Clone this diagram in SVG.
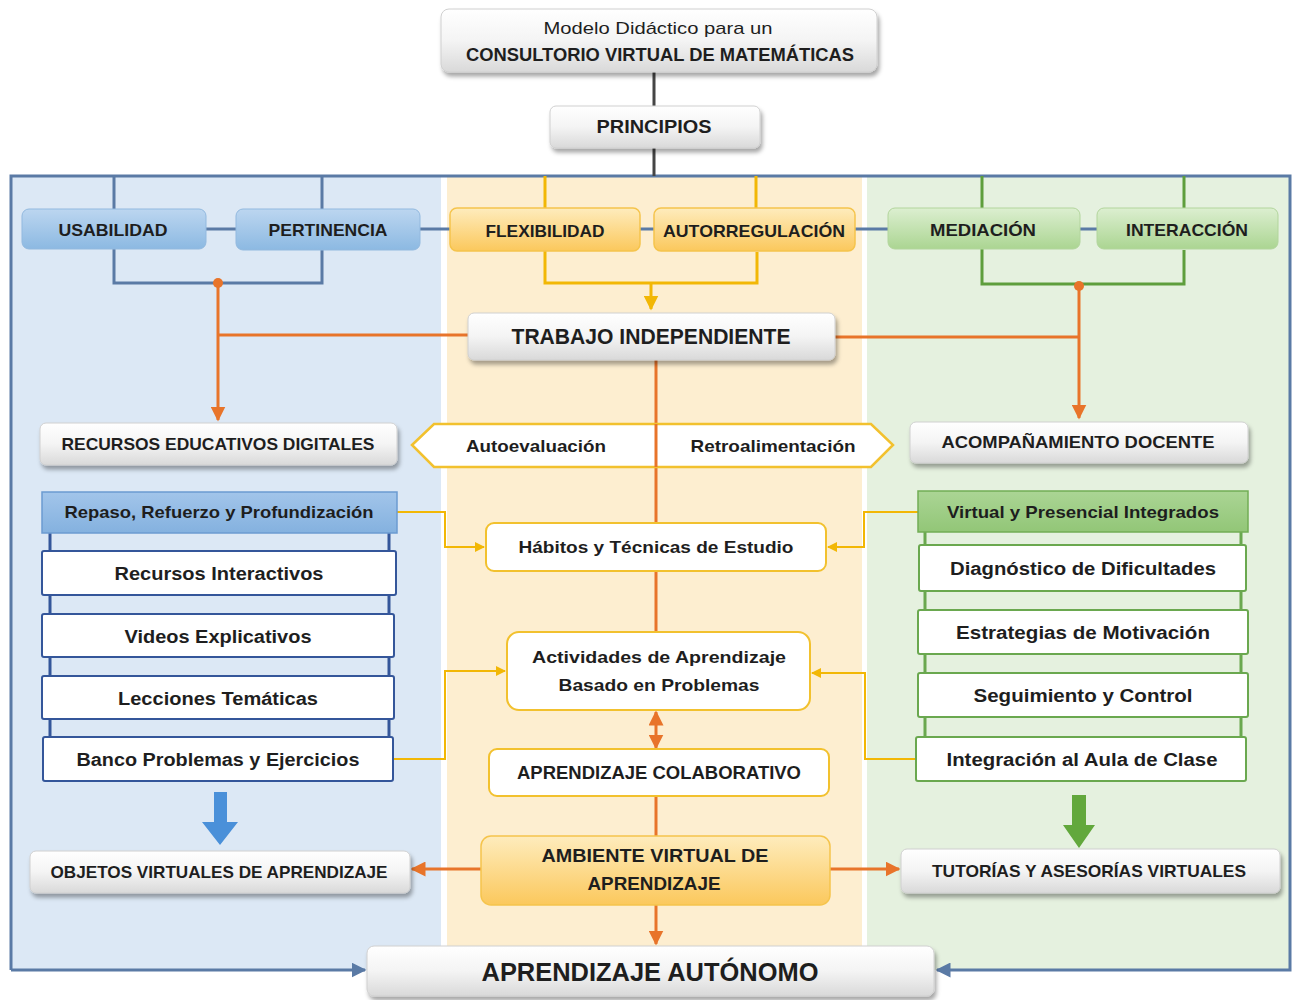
<svg xmlns="http://www.w3.org/2000/svg" width="1293" height="1000" viewBox="0 0 1293 1000">
<defs>
<linearGradient id="gGray" x1="0" y1="0" x2="0" y2="1"><stop offset="0" stop-color="#ffffff"/><stop offset="0.5" stop-color="#f4f4f4"/><stop offset="1" stop-color="#d9d9d9"/></linearGradient>
<linearGradient id="gBlue" x1="0" y1="0" x2="0" y2="1"><stop offset="0" stop-color="#bcd6f0"/><stop offset="1" stop-color="#8cb9e2"/></linearGradient>
<linearGradient id="gYel" x1="0" y1="0" x2="0" y2="1"><stop offset="0" stop-color="#feecbd"/><stop offset="1" stop-color="#fbc85c"/></linearGradient>
<linearGradient id="gGrn" x1="0" y1="0" x2="0" y2="1"><stop offset="0" stop-color="#dcefd0"/><stop offset="1" stop-color="#abd592"/></linearGradient>
<linearGradient id="gRep" x1="0" y1="0" x2="0" y2="1"><stop offset="0" stop-color="#a2c5ea"/><stop offset="1" stop-color="#84b1df"/></linearGradient>
<linearGradient id="gVir" x1="0" y1="0" x2="0" y2="1"><stop offset="0" stop-color="#abd595"/><stop offset="1" stop-color="#92c677"/></linearGradient>
<filter id="sh" x="-5%" y="-20%" width="110%" height="150%"><feDropShadow dx="2" dy="4" stdDeviation="2" flood-color="#000" flood-opacity="0.35"/></filter>
<marker id="aO" viewBox="0 0 10 10" refX="9" refY="5" markerWidth="5" markerHeight="5" orient="auto-start-reverse"><path d="M0,0 L10,5 L0,10 z" fill="#e8742a"/></marker>
<marker id="aY" viewBox="0 0 10 10" refX="9" refY="5" markerWidth="5" markerHeight="5" orient="auto-start-reverse"><path d="M0,0 L10,5 L0,10 z" fill="#f2b705"/></marker>
<marker id="aF" viewBox="0 0 10 10" refX="9" refY="5" markerWidth="5" markerHeight="5" orient="auto"><path d="M0,0 L10,5 L0,10 z" fill="#5a7aa5"/></marker>
</defs>
<style>
text{font-family:"Liberation Sans",Arial,sans-serif;font-weight:bold;fill:#1e1e1e;text-anchor:middle;}
.n{font-weight:normal;}
.gray{fill:url(#gGray);stroke:#d0d0d0;stroke-width:1;filter:url(#sh);}
.blu{fill:url(#gBlue);stroke:#92b9df;stroke-width:1;}
.yel{fill:url(#gYel);stroke:#f5c44c;stroke-width:1.5;}
.grn{fill:url(#gGrn);stroke:#b2d59c;stroke-width:1;}
.wy{fill:#fff;stroke:#f2c12e;stroke-width:2;}
.wb{fill:#fff;stroke:#34569a;stroke-width:2;}
.wg{fill:#fff;stroke:#6aa84f;stroke-width:2;}
.lf{fill:none;stroke:#5a7aa5;stroke-width:3;}
.ld{fill:none;stroke:#454545;stroke-width:3;}
.lb{fill:none;stroke:#5a7aa5;stroke-width:3;}
.ly{fill:none;stroke:#f2b705;stroke-width:3;}
.lg{fill:none;stroke:#5e9e3c;stroke-width:3;}
.lo{fill:none;stroke:#e8742a;stroke-width:3;}
.lyt{fill:none;stroke:#f2b705;stroke-width:2;}
</style>

<g id="panels">
<rect x="12" y="177" width="429" height="793" fill="#dce8f5"/>
<rect x="447" y="177" width="415" height="793" fill="#fdeed0"/>
<rect x="867" y="177" width="422" height="793" fill="#e5f1df"/>
</g>

<g id="connectors">
<path class="lf" d="M11,970 V176 H1290 V970 H937" marker-end="url(#aF)"/>
<path class="lf" d="M11,970 H365" marker-end="url(#aF)"/>
<path class="ld" d="M654,72 V106 M654,148 V176"/>
<path class="lb" d="M114,176 V209 M322,176 V209 M206,229 H236 M420,229 H450 M640,229 H654 M855,229 H888 M1080,229 H1097"/>
<path class="lb" d="M114,249 V283 H322 V250"/>
<path class="ly" d="M545,176 V208 M756,176 V208"/>
<path class="ly" d="M545,251 V283 H757 V252"/>
<path class="ly" d="M651,283 V309" marker-end="url(#aY)"/>
<path class="lg" d="M982,176 V208 M1184,176 V208"/>
<path class="lg" d="M982,249 V284 H1184 V250"/>
<path class="lo" d="M218,283 V420" marker-end="url(#aO)"/>
<path class="lo" d="M468,335 H218"/>
<path class="lo" d="M1079,286 V418" marker-end="url(#aO)"/>
<path class="lo" d="M835,337 H1079"/>
<circle cx="218" cy="283" r="5" fill="#e8742a"/>
<circle cx="1079" cy="286" r="5" fill="#e8742a"/>
<path class="lo" d="M656,360 V523 M656,571 V632 M656,796 V836"/>
<path class="lo" d="M656,712 V748" marker-start="url(#aO)" marker-end="url(#aO)"/>
<path class="lo" d="M656,905 V944" marker-end="url(#aO)"/>
<path class="lo" d="M481,869 H412" marker-end="url(#aO)"/>
<path class="lo" d="M830,869 H899" marker-end="url(#aO)"/>
<path class="lyt" d="M397,512 H445 V547 H484" marker-end="url(#aY)"/>
<path class="lyt" d="M393,759 H445 V671 H505" marker-end="url(#aY)"/>
<path class="lyt" d="M918,512 H864 V547 H828" marker-end="url(#aY)"/>
<path class="lyt" d="M916,759 H865 V673 H812" marker-end="url(#aY)"/>
<path d="M50,533 V740 M389,533 V740" stroke="#34569a" stroke-width="3" fill="none"/>
<path d="M925,532 V740 M1241,532 V740" stroke="#6aa84f" stroke-width="3" fill="none"/>
<path d="M214,792 H227 V822 H238 L220,845 L202,822 H214 Z" fill="#4a90d9"/>
<path d="M1072,795 H1086 V825 H1095 L1079,848 L1063,825 H1072 Z" fill="#62a83c"/>
</g>

<g id="titulo"><rect class="gray" x="441" y="9" width="436" height="63" rx="8"/>
<text class="n" x="658" y="34" font-size="17" textLength="229" lengthAdjust="spacingAndGlyphs">Modelo Didáctico para un</text>
<text x="660" y="61" font-size="18" textLength="388" lengthAdjust="spacingAndGlyphs">CONSULTORIO VIRTUAL DE MATEMÁTICAS</text></g>

<g id="principios"><rect class="gray" x="550" y="106" width="210" height="42" rx="6"/>
<text x="654" y="133" font-size="18" textLength="115" lengthAdjust="spacingAndGlyphs">PRINCIPIOS</text></g>

<g id="usabilidad"><rect class="blu" x="22" y="209" width="184" height="40" rx="7"/><text x="113" y="236" font-size="17" textLength="109" lengthAdjust="spacingAndGlyphs">USABILIDAD</text></g>
<g id="pertinencia"><rect class="blu" x="236" y="209" width="184" height="41" rx="7"/><text x="328" y="236" font-size="17" textLength="119" lengthAdjust="spacingAndGlyphs">PERTINENCIA</text></g>
<g id="flexibilidad"><rect class="yel" x="450" y="208" width="190" height="43" rx="7"/><text x="545" y="237" font-size="17" textLength="119" lengthAdjust="spacingAndGlyphs">FLEXIBILIDAD</text></g>
<g id="autorregulacion"><rect class="yel" x="654" y="208" width="201" height="43" rx="7"/><text x="754" y="237" font-size="17" textLength="182" lengthAdjust="spacingAndGlyphs">AUTORREGULACIÓN</text></g>
<g id="mediacion"><rect class="grn" x="888" y="208" width="192" height="41" rx="7"/><text x="983" y="236" font-size="17" textLength="106" lengthAdjust="spacingAndGlyphs">MEDIACIÓN</text></g>
<g id="interaccion"><rect class="grn" x="1097" y="208" width="181" height="41" rx="7"/><text x="1187" y="236" font-size="17" textLength="122" lengthAdjust="spacingAndGlyphs">INTERACCIÓN</text></g>

<g id="trabajo"><rect class="gray" x="468" y="313" width="367" height="47" rx="6"/><text x="651" y="344" font-size="22" textLength="279" lengthAdjust="spacingAndGlyphs">TRABAJO INDEPENDIENTE</text></g>

<g id="recursos-edu"><rect class="gray" x="40" y="423" width="357" height="42" rx="6"/><text x="218" y="450" font-size="17" textLength="313" lengthAdjust="spacingAndGlyphs">RECURSOS EDUCATIVOS DIGITALES</text></g>
<g id="hexagono"><path d="M412,445 L434,424 H871 L893,445 L871,467 H434 Z" fill="#fff" stroke="#f2c12e" stroke-width="2.5"/>
<path class="lo" d="M656,424 V467"/>
<text x="536" y="452" font-size="17" textLength="140" lengthAdjust="spacingAndGlyphs">Autoevaluación</text>
<text x="773" y="452" font-size="17" textLength="165" lengthAdjust="spacingAndGlyphs">Retroalimentación</text></g>
<g id="acompanamiento"><rect class="gray" x="910" y="422" width="338" height="41" rx="6"/><text x="1078" y="448" font-size="17" textLength="273" lengthAdjust="spacingAndGlyphs">ACOMPAÑAMIENTO DOCENTE</text></g>

<g id="repaso"><rect x="42" y="492" width="355" height="41" fill="url(#gRep)" stroke="#6b9bd1" stroke-width="1.5"/><text x="219" y="518" font-size="17" textLength="309" lengthAdjust="spacingAndGlyphs">Repaso, Refuerzo y Profundización</text></g>
<g id="rec-interactivos"><rect class="wb" x="42" y="551" width="354" height="44" rx="2"/><text x="219" y="580" font-size="18" textLength="209" lengthAdjust="spacingAndGlyphs">Recursos Interactivos</text></g>
<g id="videos"><rect class="wb" x="42" y="614" width="352" height="43" rx="2"/><text x="218" y="643" font-size="18" textLength="187" lengthAdjust="spacingAndGlyphs">Videos Explicativos</text></g>
<g id="lecciones"><rect class="wb" x="42" y="676" width="352" height="43" rx="2"/><text x="218" y="705" font-size="18" textLength="200" lengthAdjust="spacingAndGlyphs">Lecciones Temáticas</text></g>
<g id="banco"><rect class="wb" x="43" y="737" width="350" height="44" rx="2"/><text x="218" y="766" font-size="18" textLength="283" lengthAdjust="spacingAndGlyphs">Banco Problemas y Ejercicios</text></g>

<g id="habitos"><rect class="wy" x="486" y="523" width="340" height="48" rx="8"/><text x="656" y="553" font-size="17" textLength="275" lengthAdjust="spacingAndGlyphs">Hábitos y Técnicas de Estudio</text></g>
<g id="actividades"><rect class="wy" x="507" y="632" width="303" height="78" rx="12"/>
<text x="659" y="663" font-size="17" textLength="254" lengthAdjust="spacingAndGlyphs">Actividades de Aprendizaje</text>
<text x="659" y="691" font-size="17" textLength="201" lengthAdjust="spacingAndGlyphs">Basado en Problemas</text></g>
<g id="colaborativo"><rect class="wy" x="489" y="749" width="340" height="47" rx="8"/><text x="659" y="779" font-size="18" textLength="284" lengthAdjust="spacingAndGlyphs">APRENDIZAJE COLABORATIVO</text></g>
<g id="ambiente"><rect class="yel" x="481" y="836" width="349" height="69" rx="10"/>
<text x="655" y="862" font-size="19" textLength="227" lengthAdjust="spacingAndGlyphs">AMBIENTE VIRTUAL DE</text>
<text x="654" y="890" font-size="19" textLength="133" lengthAdjust="spacingAndGlyphs">APRENDIZAJE</text></g>

<g id="virtual-presencial"><rect x="918" y="491" width="330" height="41" fill="url(#gVir)" stroke="#72ad55" stroke-width="1.5"/><text x="1083" y="518" font-size="17" textLength="272" lengthAdjust="spacingAndGlyphs">Virtual y Presencial Integrados</text></g>
<g id="diagnostico"><rect class="wg" x="919" y="545" width="327" height="46" rx="2"/><text x="1083" y="575" font-size="18" textLength="266" lengthAdjust="spacingAndGlyphs">Diagnóstico de Dificultades</text></g>
<g id="estrategias"><rect class="wg" x="918" y="610" width="330" height="44" rx="2"/><text x="1083" y="639" font-size="18" textLength="254" lengthAdjust="spacingAndGlyphs">Estrategias de Motivación</text></g>
<g id="seguimiento"><rect class="wg" x="918" y="673" width="330" height="44" rx="2"/><text x="1083" y="702" font-size="18" textLength="219" lengthAdjust="spacingAndGlyphs">Seguimiento y Control</text></g>
<g id="integracion"><rect class="wg" x="916" y="737" width="330" height="44" rx="2"/><text x="1082" y="766" font-size="18" textLength="271" lengthAdjust="spacingAndGlyphs">Integración al Aula de Clase</text></g>

<g id="objetos"><rect class="gray" x="30" y="851" width="380" height="42" rx="6"/><text x="219" y="878" font-size="17" textLength="337" lengthAdjust="spacingAndGlyphs">OBJETOS VIRTUALES DE APRENDIZAJE</text></g>
<g id="tutorias"><rect class="gray" x="901" y="849" width="379" height="44" rx="6"/><text x="1089" y="877" font-size="17" textLength="314" lengthAdjust="spacingAndGlyphs">TUTORÍAS Y ASESORÍAS VIRTUALES</text></g>

<g id="autonomo"><rect class="gray" x="367" y="946" width="567" height="50" rx="7"/><text x="650" y="981" font-size="26" textLength="337" lengthAdjust="spacingAndGlyphs">APRENDIZAJE AUTÓNOMO</text></g>
</svg>
